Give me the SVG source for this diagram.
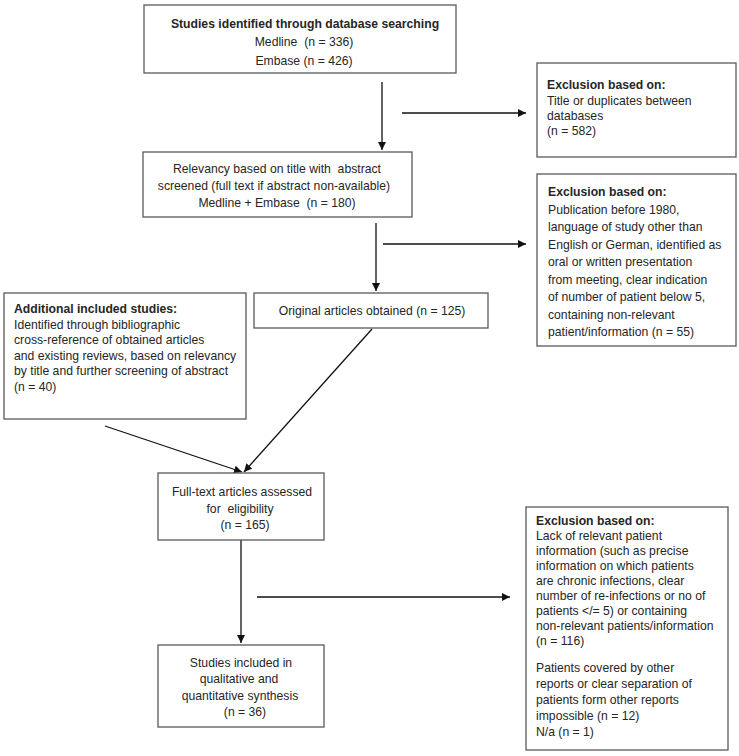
<svg xmlns="http://www.w3.org/2000/svg" width="739" height="756" viewBox="0 0 739 756">
<style>
.box{fill:#fff;stroke:#5a5a5a;stroke-width:1.3}
text{font-family:"Liberation Sans",Arial,sans-serif;font-size:12.2px;fill:#262626}
.b{font-weight:bold}
.m{text-anchor:middle}
.c{stroke:#111;stroke-width:1.3;fill:none;marker-end:url(#ah)}
</style>
<defs>
<marker id="ah" viewBox="0 0 10 10" refX="10" refY="5" markerWidth="8" markerHeight="8" markerUnits="userSpaceOnUse" orient="auto">
<path d="M0,0 L10,5 L0,10 z" fill="#111"/>
</marker>
</defs>
<rect width="739" height="756" fill="#fff"/>
<g id="connectors">
<line class="c" x1="382" y1="82" x2="382" y2="150"/>
<line class="c" x1="402" y1="113" x2="526" y2="113"/>
<line class="c" x1="376" y1="223" x2="376" y2="291"/>
<line class="c" x1="383" y1="244" x2="526" y2="244"/>
<line class="c" x1="372" y1="329" x2="244" y2="472"/>
<line class="c" x1="105" y1="426" x2="242" y2="472"/>
<line class="c" x1="241" y1="540" x2="241" y2="643"/>
<line class="c" x1="257" y1="597" x2="510" y2="597"/>
</g>
<g id="n1">
<rect class="box" x="144" y="5" width="312" height="68"/>
<text class="b m" x="305" y="28">Studies identified through database searching</text>
<text class="m" x="304" y="46" xml:space="preserve">Medline  (n = 336)</text>
<text class="m" x="304" y="65">Embase (n = 426)</text>
</g>
<g id="x1">
<rect class="box" x="537" y="63" width="199" height="94"/>
<text class="b" x="547" y="89">Exclusion based on:</text>
<text x="547" y="105">Title or duplicates between</text>
<text x="547" y="120">databases</text>
<text x="547" y="135">(n = 582)</text>
</g>
<g id="n2">
<rect class="box" x="143" y="152" width="269" height="65"/>
<text class="m" x="277" y="173" xml:space="preserve">Relevancy based on title with  abstract</text>
<text class="m" x="274" y="190">screened (full text if abstract non-available)</text>
<text class="m" x="277" y="207" xml:space="preserve">Medline + Embase  (n = 180)</text>
</g>
<g id="x2">
<rect class="box" x="537" y="174" width="199" height="172"/>
<text class="b" x="548" y="196">Exclusion based on:</text>
<text x="548" y="213.5">Publication before 1980,</text>
<text x="548" y="231">language of study other than</text>
<text x="548" y="248.5">English or German, identified as</text>
<text x="548" y="266">oral or written presentation</text>
<text x="548" y="283.5">from meeting, clear indication</text>
<text x="548" y="301">of number of patient below 5,</text>
<text x="548" y="318.5">containing non-relevant</text>
<text x="548" y="336">patient/information (n = 55)</text>
</g>
<g id="n3">
<rect class="box" x="254" y="293" width="234" height="35"/>
<text class="m" x="372" y="315">Original articles obtained (n = 125)</text>
</g>
<g id="n4">
<rect class="box" x="4" y="293" width="242" height="126"/>
<text class="b" x="14" y="313">Additional included studies:</text>
<text x="14" y="328.5">Identified through bibliographic</text>
<text x="14" y="344">cross-reference of obtained articles</text>
<text x="14" y="359.5">and existing reviews, based on relevancy</text>
<text x="14" y="375">by title and further screening of abstract</text>
<text x="14" y="390.5">(n = 40)</text>
</g>
<g id="n5">
<rect class="box" x="158" y="473" width="166" height="67"/>
<text class="m" x="242" y="496">Full-text articles assessed</text>
<text class="m" x="240" y="513" xml:space="preserve">for  eligibility</text>
<text class="m" x="245" y="529">(n = 165)</text>
</g>
<g id="x3">
<rect class="box" x="526" y="507" width="202" height="243"/>
<text class="b" x="536" y="525">Exclusion based on:</text>
<text x="536" y="540">Lack of relevant patient</text>
<text x="536" y="555">information (such as precise</text>
<text x="536" y="570">information on which patients</text>
<text x="536" y="585">are chronic infections, clear</text>
<text x="536" y="600">number of re-infections or no of</text>
<text x="536" y="615">patients &lt;/= 5) or containing</text>
<text x="536" y="630">non-relevant patients/information</text>
<text x="536" y="645">(n = 116)</text>
<text x="536" y="672">Patients covered by other</text>
<text x="536" y="688">reports or clear separation of</text>
<text x="536" y="704">patients form other reports</text>
<text x="536" y="720">impossible (n = 12)</text>
<text x="536" y="736">N/a (n = 1)</text>
</g>
<g id="n6">
<rect class="box" x="158" y="645" width="166" height="82"/>
<text class="m" x="241" y="667">Studies included in</text>
<text class="m" x="239" y="683">qualitative and</text>
<text class="m" x="240" y="700">quantitative synthesis</text>
<text class="m" x="245" y="716">(n = 36)</text>
</g>
</svg>
